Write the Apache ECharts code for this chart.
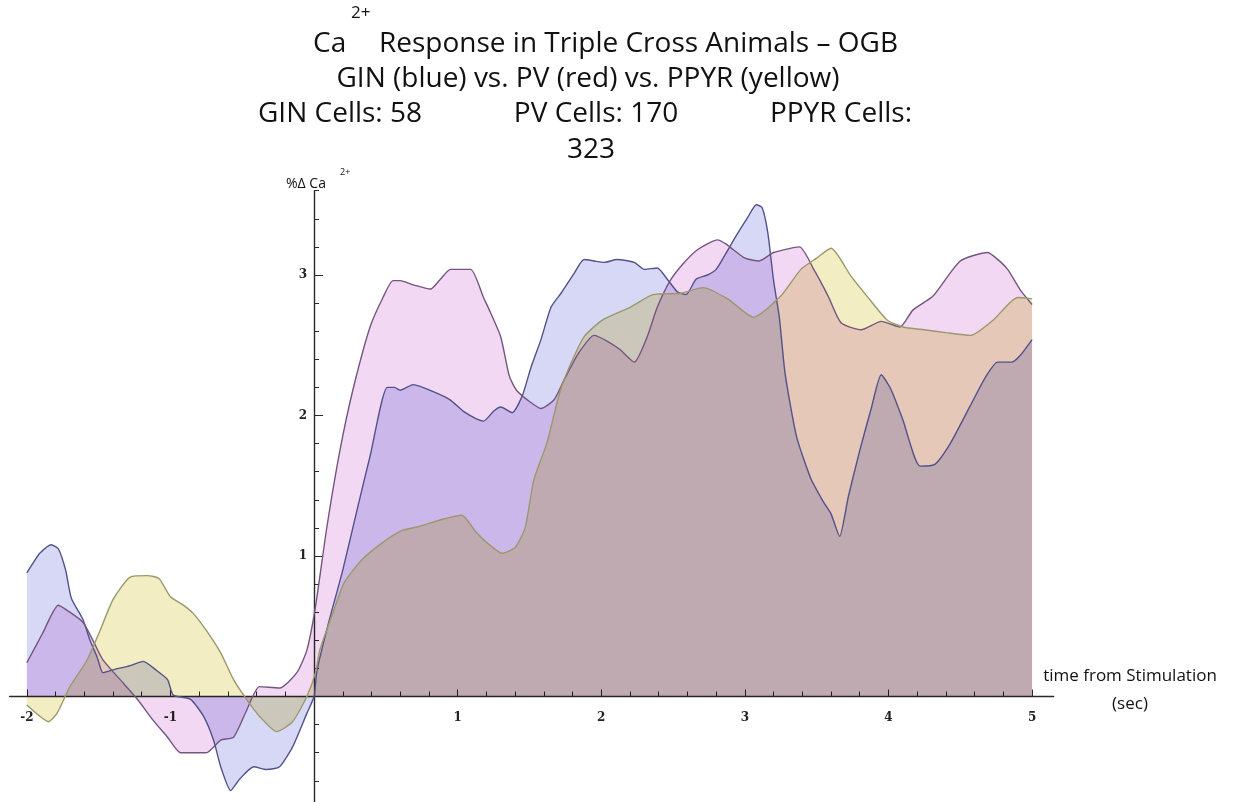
<!DOCTYPE html>
<html>
<head>
<meta charset="utf-8">
<script src="https://cdn.jsdelivr.net/npm/echarts@6/dist/echarts.min.js"></script>
<style>
  html, body { margin: 0; padding: 0; background: #fff; }
  #chart { width: 1234px; height: 802px; }
</style>
</head>
<body>
<div id="chart"></div>
<script>
// Mean %ΔCa2+ traces, time in seconds relative to stimulation onset.
const ginTime = [-2, -1.95, -1.91, -1.83, -1.78, -1.73, -1.69, -1.61, -1.56, -1.51, -1.47, -1.40, -1.28, -1.19, -1.09, -1.02, -0.98, -0.86, -0.77, -0.70, -0.65, -0.58, -0.52, -0.42, -0.33, -0.24, -0.15, -0.05, 0, 0.02, 0.10, 0.20, 0.30, 0.39, 0.51, 0.56, 0.60, 0.69, 0.83, 0.95, 1.04, 1.18, 1.25, 1.30, 1.38, 1.45, 1.51, 1.58, 1.65, 1.72, 1.81, 1.88, 1.95, 2.02, 2.11, 2.23, 2.30, 2.39, 2.46, 2.53, 2.59, 2.66, 2.74, 2.80, 2.86, 2.94, 3.02, 3.08, 3.12, 3.16, 3.20, 3.24, 3.28, 3.36, 3.46, 3.55, 3.60, 3.66, 3.72, 3.80, 3.88, 3.95, 4.02, 4.10, 4.22, 4.32, 4.43, 4.57, 4.68, 4.76, 4.86, 4.92, 5.0];
const ginValue = [0.88, 0.96, 1.02, 1.08, 1.05, 0.90, 0.70, 0.55, 0.40, 0.28, 0.17, 0.19, 0.22, 0.25, 0.18, 0.12, 0.01, -0.02, -0.14, -0.31, -0.50, -0.67, -0.59, -0.50, -0.52, -0.50, -0.36, -0.12, 0.0, 0.18, 0.52, 0.90, 1.33, 1.71, 2.20, 2.20, 2.18, 2.22, 2.17, 2.11, 2.03, 1.96, 2.03, 2.06, 2.02, 2.14, 2.34, 2.54, 2.77, 2.87, 3.01, 3.11, 3.10, 3.09, 3.11, 3.09, 3.04, 3.05, 2.97, 2.88, 2.86, 2.97, 3.00, 3.04, 3.14, 3.28, 3.41, 3.50, 3.48, 3.30, 2.96, 2.70, 2.30, 1.85, 1.55, 1.38, 1.30, 1.14, 1.42, 1.75, 2.05, 2.29, 2.18, 1.97, 1.64, 1.65, 1.80, 2.07, 2.28, 2.38, 2.38, 2.43, 2.54];

const pvTime = [-2, -1.89, -1.78, -1.70, -1.61, -1.54, -1.47, -1.35, -1.23, -1.12, -1.02, -0.93, -0.84, -0.75, -0.65, -0.56, -0.47, -0.38, -0.24, -0.12, -0.05, 0.01, 0.09, 0.18, 0.27, 0.39, 0.48, 0.55, 0.60, 0.69, 0.81, 0.88, 0.95, 1.09, 1.18, 1.23, 1.30, 1.36, 1.41, 1.50, 1.58, 1.67, 1.74, 1.84, 1.95, 2.04, 2.13, 2.23, 2.32, 2.39, 2.48, 2.57, 2.67, 2.81, 2.87, 2.92, 3.0, 3.1, 3.2, 3.38, 3.48, 3.58, 3.67, 3.81, 3.95, 4.08, 4.17, 4.31, 4.50, 4.69, 4.75, 4.83, 4.92, 5.0];
const pvValue = [0.24, 0.45, 0.65, 0.60, 0.53, 0.40, 0.26, 0.12, -0.02, -0.17, -0.29, -0.40, -0.40, -0.40, -0.31, -0.29, -0.10, 0.07, 0.06, 0.17, 0.33, 0.64, 1.21, 1.75, 2.18, 2.63, 2.84, 2.96, 2.96, 2.93, 2.90, 2.97, 3.04, 3.04, 2.84, 2.73, 2.56, 2.28, 2.18, 2.10, 2.05, 2.11, 2.25, 2.44, 2.57, 2.53, 2.47, 2.38, 2.56, 2.77, 2.96, 3.08, 3.18, 3.25, 3.22, 3.18, 3.12, 3.10, 3.16, 3.20, 3.04, 2.85, 2.66, 2.61, 2.67, 2.63, 2.75, 2.85, 3.10, 3.16, 3.12, 3.04, 2.89, 2.79];

const ppyrTime = [-2, -1.91, -1.85, -1.79, -1.70, -1.58, -1.49, -1.40, -1.28, -1.16, -1.08, -1.00, -0.91, -0.84, -0.75, -0.65, -0.56, -0.47, -0.38, -0.26, -0.15, -0.05, 0.01, 0.04, 0.14, 0.21, 0.33, 0.47, 0.61, 0.73, 0.89, 1.03, 1.12, 1.21, 1.31, 1.40, 1.47, 1.53, 1.62, 1.71, 1.78, 1.88, 2.01, 2.20, 2.36, 2.55, 2.71, 2.88, 3.06, 3.25, 3.39, 3.50, 3.60, 3.74, 3.85, 3.99, 4.10, 4.25, 4.40, 4.57, 4.73, 4.90, 5.0];
const ppyrValue = [-0.06, -0.14, -0.18, -0.12, 0.07, 0.26, 0.47, 0.69, 0.85, 0.86, 0.84, 0.71, 0.65, 0.59, 0.47, 0.31, 0.12, -0.02, -0.14, -0.25, -0.18, 0.0, 0.17, 0.33, 0.62, 0.81, 0.97, 1.09, 1.18, 1.21, 1.26, 1.29, 1.18, 1.09, 1.02, 1.06, 1.20, 1.54, 1.80, 2.16, 2.35, 2.56, 2.68, 2.77, 2.86, 2.87, 2.91, 2.83, 2.70, 2.85, 3.04, 3.12, 3.19, 2.99, 2.85, 2.68, 2.63, 2.61, 2.59, 2.57, 2.68, 2.84, 2.83];

// Tick labels
const xTickLabels = [-2, -1, 1, 2, 3, 4, 5];
const yTickLabels = [1, 2, 3];

// Minor tick marks every 0.2 along both axes
function steps(from, to, step) {
  const out = [];
  for (let v = from; v <= to + 1e-9; v += step) out.push(Math.round(v * 10) / 10);
  return out;
}
const xTicks = steps(-2, 5, 0.2);
const yTicks = steps(-0.8, 3.6, 0.2);

const pairs = (ts, vs) => ts.map((t, i) => [t, vs[i]]);

// Plot frame: axes cross at the origin, so each axis is shifted into the grid
const X_MIN = -2.12, X_MAX = 5.15, Y_MIN = -0.8, Y_MAX = 3.6;
const GRID = { left: 9.6, top: 190.7, width: 1044, height: 618.2 };
const yAxisShift = -(0 - X_MIN) / (X_MAX - X_MIN) * GRID.width;
const xAxisShift = -(0 - Y_MIN) / (Y_MAX - Y_MIN) * GRID.height;

const axisColor = '#2a2a2a';
const tickFont = { fontFamily: 'DejaVu Serif', fontSize: 12, color: '#222', fontWeight: 'bold' };
const titleFont = '28px "Open Sans"';

const chart = echarts.init(document.getElementById('chart'), null, { renderer: 'canvas' });

const areaSeries = (name, data, lineColor, fillColor) => ({
  type: 'line',
  name,
  data,
  xAxisIndex: 0,
  yAxisIndex: 0,
  showSymbol: false,
  symbol: 'none',
  smooth: 0.2,
  silent: true,
  emphasis: { disabled: true },
  lineStyle: { color: lineColor, width: 1.4 },
  areaStyle: { color: fillColor, opacity: 1 }
});

chart.setOption({
  animation: false,
  backgroundColor: '#ffffff',
  grid: Object.assign({ containLabel: false, outerBoundsMode: 'none' }, GRID),
  xAxis: [
    {
      type: 'value', min: X_MIN, max: X_MAX, position: 'bottom', offset: xAxisShift,
      axisLine: { show: true, onZero: false, lineStyle: { color: axisColor, width: 1.4 } },
      axisTick: { show: true, inside: true, length: 5, customValues: xTicks, lineStyle: { color: axisColor, width: 1 } },
      axisLabel: Object.assign({ show: true, margin: 15, customValues: xTickLabels, formatter: v => String(v) }, tickFont),
      splitLine: { show: false }
    },
    {
      // longer marks at the labelled seconds
      type: 'value', min: X_MIN, max: X_MAX, position: 'bottom', offset: xAxisShift,
      axisLine: { show: false, onZero: false },
      axisTick: { show: true, inside: true, length: 7, customValues: xTickLabels, lineStyle: { color: axisColor, width: 1 } },
      axisLabel: { show: false },
      splitLine: { show: false }
    }
  ],
  yAxis: [
    {
      type: 'value', min: Y_MIN, max: Y_MAX, position: 'left', offset: yAxisShift,
      axisLine: { show: true, onZero: false, lineStyle: { color: axisColor, width: 1.4 } },
      axisTick: { show: true, inside: true, length: 5, customValues: yTicks, lineStyle: { color: axisColor, width: 1 } },
      axisLabel: Object.assign({ show: true, margin: 7, customValues: yTickLabels, formatter: v => String(v) }, tickFont),
      splitLine: { show: false }
    },
    {
      // longer marks at the labelled values
      type: 'value', min: Y_MIN, max: Y_MAX, position: 'left', offset: yAxisShift,
      axisLine: { show: false, onZero: false },
      axisTick: { show: true, inside: true, length: 9, customValues: yTickLabels, lineStyle: { color: axisColor, width: 1 } },
      axisLabel: { show: false },
      splitLine: { show: false }
    }
  ],
  series: [
    areaSeries('GIN', pairs(ginTime, ginValue), '#52528a', 'rgb(214,216,246)'),
    areaSeries('PV', pairs(pvTime, pvValue), '#735680', 'rgb(242,216,242)'),
    areaSeries('PPYR', pairs(ppyrTime, ppyrValue), '#9a986c', 'rgb(242,237,194)')
  ],
  graphic: [
    { type: 'text', x: 313, y: 44, style: { text: 'Ca', font: titleFont, fill: '#111', align: 'left', verticalAlign: 'middle' } },
    { type: 'text', x: 351, y: 13, style: { text: '2+', font: '17px "Open Sans"', fill: '#111', align: 'left', verticalAlign: 'middle' } },
    { type: 'text', x: 379, y: 44, style: { text: 'Response in Triple Cross Animals \u2013 OGB', font: titleFont, fill: '#111', align: 'left', verticalAlign: 'middle' } },
    { type: 'text', x: 588, y: 79, style: { text: 'GIN (blue) vs. PV (red) vs. PPYR (yellow)', font: titleFont, fill: '#111', align: 'center', verticalAlign: 'middle' } },
    { type: 'text', x: 258, y: 114, style: { text: 'GIN Cells: 58', font: titleFont, fill: '#111', align: 'left', verticalAlign: 'middle' } },
    { type: 'text', x: 596, y: 114, style: { text: 'PV Cells: 170', font: titleFont, fill: '#111', align: 'center', verticalAlign: 'middle' } },
    { type: 'text', x: 912, y: 114, style: { text: 'PPYR Cells:', font: titleFont, fill: '#111', align: 'right', verticalAlign: 'middle' } },
    { type: 'text', x: 591, y: 150, style: { text: '323', font: titleFont, fill: '#111', align: 'center', verticalAlign: 'middle' } },
    { type: 'text', x: 286, y: 184, style: { text: '%\u0394 Ca', font: '14px "Open Sans"', fill: '#111', align: 'left', verticalAlign: 'middle' } },
    { type: 'text', x: 340, y: 172, style: { text: '2+', font: '9px "Open Sans"', fill: '#111', align: 'left', verticalAlign: 'middle' } },
    { type: 'text', x: 1130, y: 676, style: { text: 'time from Stimulation', font: '17px "Open Sans"', fill: '#111', align: 'center', verticalAlign: 'middle' } },
    { type: 'text', x: 1130, y: 704, style: { text: '(sec)', font: '17px "Open Sans"', fill: '#111', align: 'center', verticalAlign: 'middle' } }
  ]
});

// Overlapping translucent fills: combine the area layers multiplicatively.
const zr = chart.getZr();
zr.storage.getDisplayList(true).forEach(el => {
  if (el.type === 'ec-polygon') {
    el.style.blend = 'multiply';
    el.markRedraw();
  }
});
zr.refreshImmediately();
</script>
</body>
</html>
